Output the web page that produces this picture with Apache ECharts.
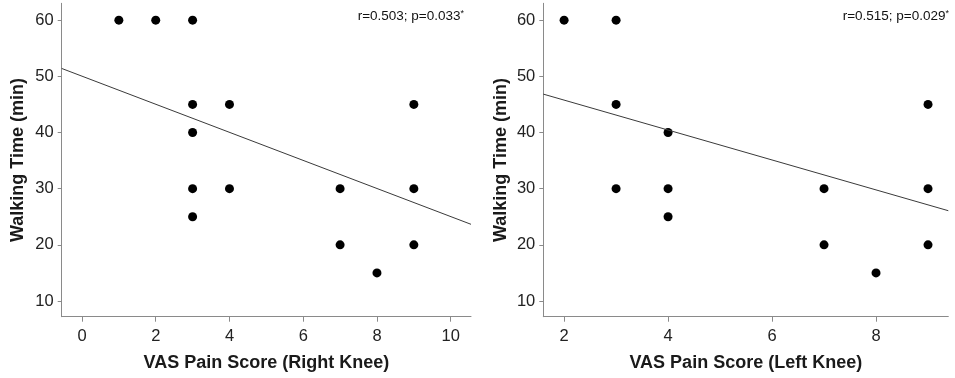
<!DOCTYPE html>
<html><head><meta charset="utf-8">
<script src="https://cdn.jsdelivr.net/npm/echarts@6/dist/echarts.min.js"></script>
<style>html,body{margin:0;padding:0;background:#fff}#c{width:955px;height:378px}</style>
</head><body><div id="c"></div>
<script>
// Left panel: VAS Pain Score (Right Knee)
const rightKneeX = [1, 2, 3, 3, 4, 3, 3, 4, 3, 7, 7, 8, 9, 9, 9];
const rightKneeY = [60, 60, 60, 45, 45, 40, 30, 30, 25, 30, 20, 15, 45, 30, 20];
const rightFitX = [-0.55, 10.55];
const rightFitY = [51.4, 23.65];
const rightStat = 'r=0.503; p=0.033';
// Right panel: VAS Pain Score (Left Knee)
const leftKneeX = [2, 3, 3, 4, 3, 4, 4, 7, 7, 8, 9, 9, 9];
const leftKneeY = [60, 60, 45, 40, 30, 30, 25, 30, 20, 15, 45, 30, 20];
const leftFitX = [1.6, 9.39];
const leftFitY = [46.83, 26.07];
const leftStat = 'r=0.515; p=0.029';
// Ticks
const yTicks = [10, 20, 30, 40, 50, 60];
const xTicksRight = [0, 2, 4, 6, 8, 10];
const xTicksLeft = [2, 4, 6, 8];
const xTitleRight = 'VAS Pain Score (Right Knee)';
const xTitleLeft = 'VAS Pain Score (Left Knee)';
const yTitle = 'Walking Time (min)';

const FONT = '"Liberation Sans", Arial, sans-serif';
const axisCol = '#8a8a8a';
function xAxis(idx, min, max, ticks, name) {
  return {
    type: 'value', gridIndex: idx, min: min, max: max, name: name,
    nameLocation: 'middle', nameGap: 37,
    nameTextStyle: {fontFamily: FONT, fontSize: 18, fontWeight: 'bold', color: '#1a1a1a'},
    axisLine: {show: true, onZero: false, lineStyle: {color: axisCol, width: 1}},
    axisTick: {show: true, length: 5, lineStyle: {color: axisCol}, customValues: ticks},
    axisLabel: {fontFamily: FONT, fontSize: 16.5, color: '#222', margin: 11, customValues: ticks},
    splitLine: {show: false}
  };
}
function yAxis(idx, gap) {
  return {
    type: 'value', gridIndex: idx, min: 7.2, max: 63, name: yTitle,
    nameLocation: 'middle', nameGap: gap, nameRotate: 90,
    nameTextStyle: {fontFamily: FONT, fontSize: 18, fontWeight: 'bold', color: '#1a1a1a'},
    axisLine: {show: true, onZero: false, lineStyle: {color: axisCol, width: 1}},
    axisTick: {show: true, length: 4, lineStyle: {color: axisCol}, customValues: yTicks},
    axisLabel: {fontFamily: FONT, fontSize: 16.5, color: '#222', margin: 8, customValues: yTicks},
    splitLine: {show: false}
  };
}
function pts(xs, ys) { return xs.map((x, i) => [x, ys[i]]); }

const rich = {
  m: {fontFamily: FONT, fontSize: 13.5, fill: '#111'},
  s: {fontFamily: FONT, fontSize: 9, fill: '#111', verticalAlign: 'top', padding: [0, 0, 6, 0]}
};
const chart = echarts.init(document.getElementById('c'), null, {renderer: 'canvas'});
chart.setOption({
  animation: false,
  backgroundColor: '#fff',
  grid: [
    {left: 61.7, top: 3.3, width: 409.3, height: 313.4, containLabel: false},
    {left: 543.3, top: 3.3, width: 405, height: 313.4, containLabel: false}
  ],
  xAxis: [xAxis(0, -0.55, 10.55, xTicksRight, xTitleRight), xAxis(1, 1.6, 9.39, xTicksLeft, xTitleLeft)],
  yAxis: [yAxis(0, 35), yAxis(1, 33)],
  series: [
    {type: 'line', xAxisIndex: 0, yAxisIndex: 0, data: pts(rightFitX, rightFitY), symbol: 'none',
     lineStyle: {color: '#3a3a3a', width: 1}, silent: true},
    {type: 'scatter', xAxisIndex: 0, yAxisIndex: 0, data: pts(rightKneeX, rightKneeY), symbolSize: 9,
     itemStyle: {color: '#000', opacity: 1}},
    {type: 'line', xAxisIndex: 1, yAxisIndex: 1, data: pts(leftFitX, leftFitY), symbol: 'none',
     lineStyle: {color: '#3a3a3a', width: 1}, silent: true},
    {type: 'scatter', xAxisIndex: 1, yAxisIndex: 1, data: pts(leftKneeX, leftKneeY), symbolSize: 9,
     itemStyle: {color: '#000', opacity: 1}}
  ],
  graphic: [
    {type: 'text', right: 955 - 464, top: 9, style: {text: '{m|' + rightStat + '}{s|*}', rich: rich}},
    {type: 'text', right: 955 - 949, top: 9, style: {text: '{m|' + leftStat + '}{s|*}', rich: rich}}
  ]
});
</script></body></html>
